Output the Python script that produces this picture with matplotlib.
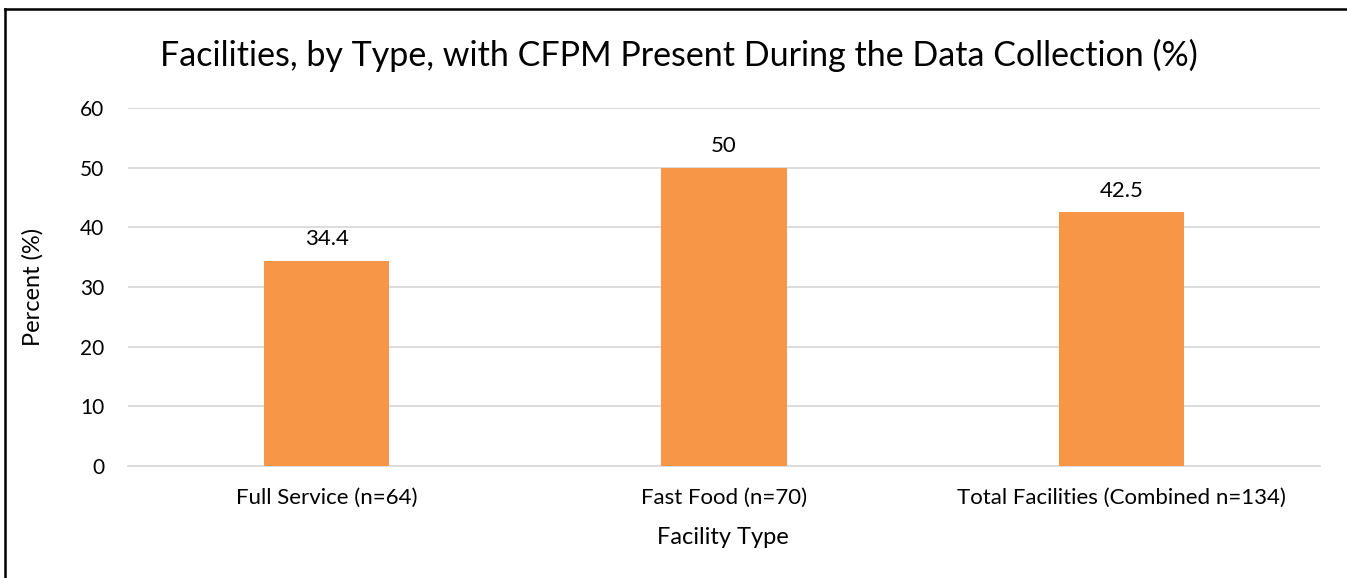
import matplotlib.pyplot as plt
from matplotlib.lines import Line2D

categories = ["Full Service (n=64)", "Fast Food (n=70)", "Total Facilities (Combined n=134)"]
values = [34.4, 50, 42.5]
labels = ["34.4", "50", "42.5"]
yticks = [0, 10, 20, 30, 40, 50, 60]

plt.rcParams['font.family'] = ['Lato', 'DejaVu Sans']

W, H = 1347, 578
fig = plt.figure(figsize=(W / 100, H / 100), dpi=100)
ax = fig.add_axes([128 / W, 1 - 466 / H, (1320 - 128) / W, (466 - 108) / H])

x = range(len(categories))
ax.bar(x, values, width=0.315, color='#F79646', zorder=3)
for i, v in enumerate(values):
    ax.text(i, v + 1.9, labels[i], ha='center', va='bottom', fontsize=16, color='#000000')

ax.set_xlim(-0.5, 2.5)
ax.set_ylim(0, 60)
ax.set_yticks(yticks)
ax.set_xticks(list(x))
ax.set_xticklabels(categories, fontsize=16)
ax.tick_params(axis='y', labelsize=15, length=0, pad=17)
ax.tick_params(axis='x', length=0, pad=16)
ax.grid(axis='y', color='#D9D9D9', linewidth=1.3, zorder=0)
for s in ['top', 'right', 'left']:
    ax.spines[s].set_visible(False)
ax.spines['bottom'].set_color('#D9D9D9')
ax.spines['bottom'].set_linewidth(1.3)

fig.text(33 / W, 1 - 287 / H, "Percent (%)", rotation=90, ha='center', va='center', fontsize=17)
fig.text(723 / W, 1 - 537 / H, "Facility Type", ha='center', va='center', fontsize=17)
fig.text(679 / W, 1 - 55 / H, "Facilities, by Type, with CFPM Present During the Data Collection (%)",
         ha='center', va='center', fontsize=24.5)

# chart frame: only left and top edges fall inside the image
fig.add_artist(Line2D([5 / W, 5 / W], [0, 1 - 9 / H], transform=fig.transFigure, color='black', linewidth=1.8))
fig.add_artist(Line2D([5 / W, 1.01], [1 - 9 / H, 1 - 9 / H], transform=fig.transFigure, color='black', linewidth=1.8))

fig.savefig("out.png", dpi=100)
